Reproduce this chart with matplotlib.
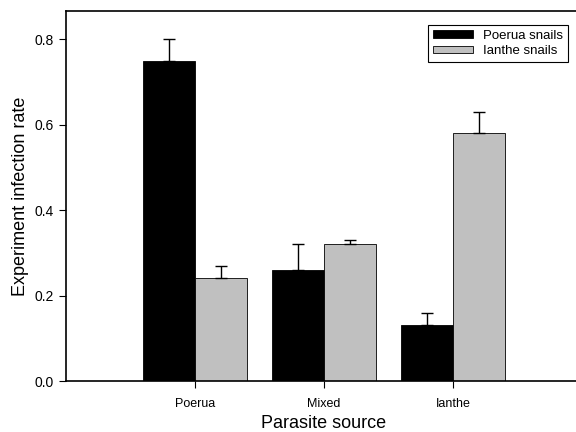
import numpy as np
import matplotlib
matplotlib.use('Agg')
import matplotlib.pyplot as plt

plt.rcParams['font.family'] = ['Liberation Sans', 'DejaVu Sans']

sources = ['Poerua', 'Mixed', 'Ianthe']
poerua_snails = [0.75, 0.26, 0.13]
poerua_err = [0.05, 0.06, 0.03]
ianthe_snails = [0.24, 0.32, 0.58]
ianthe_err = [0.03, 0.01, 0.05]

fig = plt.figure(figsize=(5.76, 4.32), dpi=100)
ax = fig.add_axes([0.1146, 0.118, 0.8958, 0.8565])

x = np.arange(len(sources))
w = 0.4
ax.bar(x - w / 2, poerua_snails, w, color='black', edgecolor='black', linewidth=0.6,
       yerr=[np.zeros(3), poerua_err], error_kw=dict(ecolor='black', elinewidth=1, capsize=4, capthick=1),
       label='Poerua snails')
ax.bar(x + w / 2, ianthe_snails, w, color='#c0c0c0', edgecolor='black', linewidth=0.6,
       yerr=[np.zeros(3), ianthe_err], error_kw=dict(ecolor='black', elinewidth=1, capsize=4, capthick=1),
       label='Ianthe snails')

ax.set_xlim(-1, 3)
ax.set_ylim(0, 0.866)
ax.set_xticks(x)
ax.set_xticklabels(sources, fontsize=9)
ax.set_yticks([0.0, 0.2, 0.4, 0.6, 0.8])
ax.set_yticklabels(['0.0', '0.2', '0.4', '0.6', '0.8'], fontsize=10)
ax.tick_params(axis='both', direction='out', length=5, width=0.8)
ax.tick_params(axis='x', pad=7)
ax.tick_params(axis='y', pad=4)
ax.spines['right'].set_visible(False)
for s in ['left', 'top', 'bottom']:
    ax.spines[s].set_linewidth(1.2)

ax.set_xlabel('Parasite source', fontsize=13, labelpad=4)
ax.set_ylabel('Experiment infection rate', fontsize=13, labelpad=4)

leg = ax.legend(loc='upper right', bbox_to_anchor=(0.9725, 0.962), fontsize=9.5, frameon=True,
                fancybox=False, edgecolor='black', framealpha=1, handlelength=3.0,
                handleheight=0.5, handletextpad=0.8, borderpad=0.35, labelspacing=0.25,
                borderaxespad=0)
leg.get_frame().set_linewidth(0.8)

fig.savefig('out.png', dpi=100)
